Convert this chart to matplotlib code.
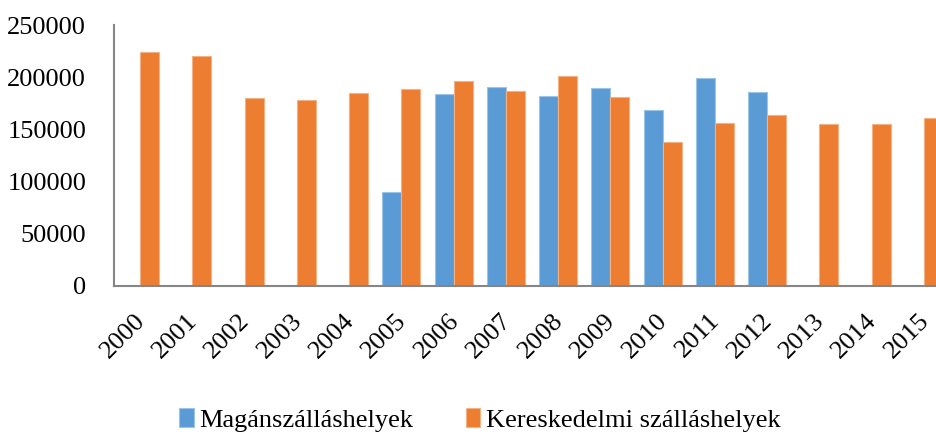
import numpy as np
import matplotlib.pyplot as plt
import matplotlib.transforms as mtransforms

years = ['2000', '2001', '2002', '2003', '2004', '2005', '2006', '2007',
         '2008', '2009', '2010', '2011', '2012', '2013', '2014', '2015']
magan = [0, 0, 0, 0, 0, 90000, 184000, 191000, 182000, 190000, 168500,
         199500, 186000, 0, 0, 0]
keresk = [224000, 220000, 180000, 178000, 185000, 189000, 196500, 186500,
          201000, 181000, 138000, 156000, 164000, 155000, 155000, 161000]

plt.rcParams['font.family'] = ['Liberation Serif', 'DejaVu Serif']

fig = plt.figure(figsize=(9.37, 4.36), dpi=100)
ax = fig.add_axes([114/937, 1 - 286/436, 836/937, 261/436])

x = np.arange(len(years))
w = 0.365
ax.bar(x - w/2, magan, w, color='#5B9BD5', edgecolor='#9DC3E6', linewidth=0.8,
       label='Magánszálláshelyek')
ax.bar(x + w/2, keresk, w, color='#ED7D31', edgecolor='#F4B183', linewidth=0.8,
       label='Kereskedelmi szálláshelyek')

ax.set_xlim(-0.5, len(years) - 0.5)
ax.set_ylim(0, 250000)
ax.set_yticks(np.arange(0, 250001, 50000))
ax.tick_params(axis='y', length=0, labelsize=19, pad=20)
ax.set_xticks(x)
ax.set_xticklabels(years, rotation=45, ha='right', rotation_mode='anchor')
ax.tick_params(axis='x', length=0, labelsize=19, pad=17)

# nudge the slanted year labels a bit to the left, like the original
shift = mtransforms.ScaledTranslation(-6/100, 0, fig.dpi_scale_trans)
for lab in ax.get_xticklabels():
    lab.set_transform(lab.get_transform() + shift)

for s in ['top', 'right']:
    ax.spines[s].set_visible(False)
for s in ['left', 'bottom']:
    ax.spines[s].set_color('#868686')
    ax.spines[s].set_linewidth(1.5)

fig.legend(loc='center', bbox_to_anchor=(0.512, 1 - 420/436), ncol=2, frameon=False,
           fontsize=19, handlelength=0.55, handleheight=0.75, handletextpad=0.2,
           columnspacing=2.0)

fig.savefig('out.png', dpi=100)
